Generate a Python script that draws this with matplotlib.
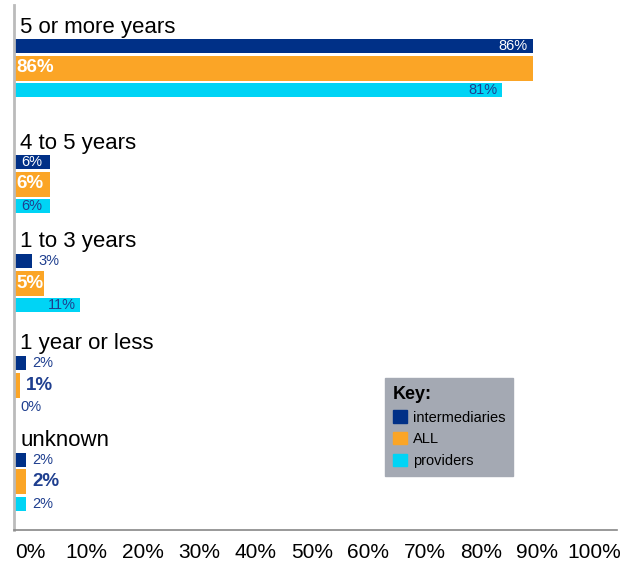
import matplotlib.pyplot as plt
import numpy as np
from matplotlib.patches import Patch

plt.rcParams['font.family'] = ['Liberation Sans', 'DejaVu Sans']

# data
categories = ['5 or more years', '4 to 5 years', '1 to 3 years', '1 year or less', 'unknown']
intermediaries = [86, 6, 3, 2, 2]
all_values = [86, 6, 5, 1, 2]
providers = [81, 6, 11, 0, 2]
tick_labels = ['%d%%' % v for v in range(0, 101, 10)]

C_INT = '#003087'
C_ALL = '#FBA526'
C_PRO = '#00D4F5'
C_TXT = '#1F3F8F'

fig = plt.figure(figsize=(6.23, 5.65), dpi=100)
ax = fig.add_axes([14 / 623, 1 - 530 / 565, 603 / 623, 525 / 565])

# group centres (ALL bar), layout in units of 100px
centres = np.array([0.63, 1.79, 2.78, 3.80, 4.77])
off = 0.22

ax.barh(centres - off, intermediaries, height=0.145, color=C_INT)
ax.barh(centres, all_values, height=0.25, color=C_ALL)
ax.barh(centres + off, providers, height=0.145, color=C_PRO)

for i, cat in enumerate(categories):
    ax.text(1.0, centres[i] - 0.41, cat, fontsize=16, va='center', ha='left', color='black')

    # intermediaries
    v = intermediaries[i]
    y = centres[i] - off
    if v >= 10:
        ax.text(v - 0.8, y, '%d%%' % v, color='white', fontsize=10.5, ha='right', va='center')
    elif v >= 5:
        ax.text(v / 2, y, '%d%%' % v, color='white', fontsize=10.5, ha='center', va='center')
    else:
        ax.text(v + 1.0, y, '%d%%' % v, color=C_TXT, fontsize=10.5, ha='left', va='center')

    # ALL
    v = all_values[i]
    y = centres[i]
    if v >= 5:
        ax.text(0.4, y, '%d%%' % v, color='white', fontsize=13.5, fontweight='bold', ha='left', va='center')
    else:
        ax.text(v + 1.0, y, '%d%%' % v, color=C_TXT, fontsize=13.5, fontweight='bold', ha='left', va='center')

    # providers
    v = providers[i]
    y = centres[i] + off
    if v >= 10:
        ax.text(v - 0.8, y, '%d%%' % v, color=C_TXT, fontsize=10.5, ha='right', va='center')
    elif v >= 5:
        ax.text(v / 2, y, '%d%%' % v, color=C_TXT, fontsize=10.5, ha='center', va='center')
    else:
        ax.text(v + 1.0, y, '%d%%' % v, color=C_TXT, fontsize=10.5, ha='left', va='center')

ax.set_xlim(0, 100)
ax.set_ylim(5.25, 0)
ax.set_yticks([])
ax.set_xticks(2.65 + 9.35 * np.arange(11))
ax.set_xticklabels(tick_labels, fontsize=15)
ax.tick_params(axis='x', length=0, pad=9)

for s in ['top', 'right']:
    ax.spines[s].set_visible(False)
ax.spines['left'].set_color('#BBBBBB')
ax.spines['left'].set_linewidth(2)
ax.spines['bottom'].set_color('#888888')
ax.spines['bottom'].set_linewidth(1.2)

handles = [Patch(color=C_INT, label='intermediaries'),
           Patch(color=C_ALL, label='ALL'),
           Patch(color=C_PRO, label='providers')]
leg = ax.legend(handles=handles, title='Key:', loc='upper left',
                bbox_to_anchor=(385 / 623, 1 - 378 / 565), bbox_transform=fig.transFigure,
                borderaxespad=0, fancybox=False, framealpha=1, facecolor='#A4A9B3',
                edgecolor='#A4A9B3', fontsize=10.5, handlelength=0.95, handleheight=0.95,
                handletextpad=0.4, labelspacing=0.5, alignment='left', borderpad=0.55,
                title_fontproperties={'weight': 'bold', 'size': 13})

fig.savefig('out.png', dpi=100)
